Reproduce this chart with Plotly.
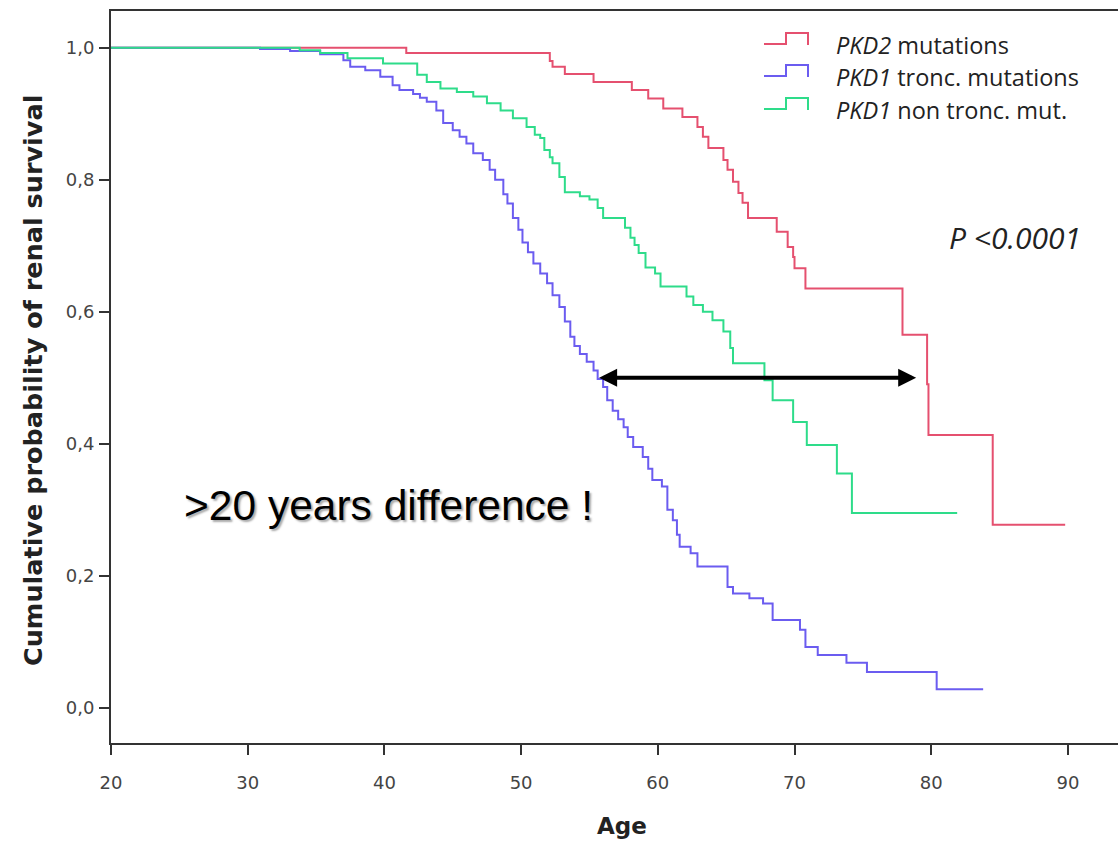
import plotly.graph_objects as go

# Kaplan-Meier renal survival by genotype (age in years, cumulative survival)
pkd2_age = [20, 41.6, 52.1, 52.3, 53.2, 55.3, 58.1, 59.3, 60.4, 61.8, 62.9, 63.3, 63.7,
            64.8, 65.1, 65.5, 65.9, 66.2, 66.6, 68.7, 69.5, 69.9, 70.0, 70.8, 77.9,
            79.7, 79.8, 84.5, 89.8]
pkd2_surv = [1.0, 0.992, 0.980, 0.971, 0.960, 0.948, 0.936, 0.923, 0.908, 0.895, 0.880,
             0.865, 0.848, 0.830, 0.815, 0.797, 0.780, 0.765, 0.742, 0.721, 0.698, 0.683,
             0.666, 0.635, 0.565, 0.490, 0.413, 0.277, 0.277]

pkd1_tr_age = [20, 30.9, 33.1, 35.3, 37.0, 37.5, 38.6, 39.7, 40.6, 41.1, 42.1, 42.6, 43.1,
               43.8, 44.3, 45.0, 45.5, 46.0, 46.5, 47.2, 47.7, 48.1, 48.7, 49.0, 49.4,
               49.8, 50.1, 50.5, 50.9, 51.4, 51.9, 52.3, 52.8, 53.2, 53.6, 53.9, 54.3,
               54.8, 55.3, 55.6, 56.0, 56.3, 56.7, 57.1, 57.5, 57.8, 58.2, 58.9, 59.3,
               59.6, 60.3, 60.7, 61.1, 61.4, 61.6, 62.4, 62.9, 65.1, 65.5, 66.7, 67.7,
               68.4, 70.4, 70.8, 71.7, 73.8, 75.3, 80.4, 83.8]
pkd1_tr_surv = [1.0, 0.998, 0.995, 0.990, 0.981, 0.971, 0.966, 0.956, 0.943, 0.936, 0.930,
                0.924, 0.918, 0.905, 0.886, 0.875, 0.865, 0.855, 0.840, 0.830, 0.815,
                0.800, 0.778, 0.764, 0.742, 0.724, 0.705, 0.690, 0.673, 0.658, 0.643,
                0.625, 0.607, 0.585, 0.562, 0.548, 0.536, 0.524, 0.511, 0.498, 0.486,
                0.466, 0.450, 0.437, 0.425, 0.410, 0.395, 0.380, 0.362, 0.345, 0.335,
                0.300, 0.284, 0.262, 0.244, 0.234, 0.214, 0.183, 0.173, 0.166, 0.158,
                0.133, 0.118, 0.092, 0.080, 0.068, 0.054, 0.028, 0.028]

pkd1_ntr_age = [20, 33.8, 35.3, 37.3, 39.9, 42.4, 43.1, 44.1, 45.3, 46.5, 47.5, 48.5, 49.4,
                50.4, 51.0, 51.4, 51.7, 52.1, 52.3, 52.8, 53.2, 54.3, 55.0, 55.6, 56.0,
                57.6, 58.0, 58.3, 58.6, 59.1, 59.8, 60.2, 62.1, 62.6, 63.3, 64.0, 64.8,
                65.3, 65.5, 67.8, 68.4, 69.9, 70.9, 73.1, 74.2, 81.9]
pkd1_ntr_surv = [1.0, 0.996, 0.992, 0.984, 0.976, 0.959, 0.948, 0.938, 0.933, 0.926, 0.916,
                 0.905, 0.893, 0.880, 0.868, 0.863, 0.845, 0.834, 0.825, 0.804, 0.781,
                 0.775, 0.770, 0.757, 0.742, 0.727, 0.712, 0.701, 0.689, 0.667, 0.658,
                 0.638, 0.623, 0.610, 0.600, 0.587, 0.570, 0.545, 0.522, 0.496, 0.466,
                 0.433, 0.398, 0.355, 0.295, 0.295]

series_names = ["<i>PKD2</i> mutations", "<i>PKD1</i> tronc. mutations",
                "<i>PKD1</i> non tronc. mut."]
series_colors = ["#e5506f", "#6b5cf0", "#2edc8a"]

x_ticks = [20, 30, 40, 50, 60, 70, 80, 90]
y_ticks = [0.0, 0.2, 0.4, 0.6, 0.8, 1.0]
y_tick_labels = ["0,0", "0,2", "0,4", "0,6", "0,8", "1,0"]

# median gap highlighted by the double arrow (ages at survival 0.5)
gap_start, gap_end, gap_level = 55.6, 78.9, 0.5

W, H = 1118, 843
ML, MR, MT, MB = 111, 0, 11, 100


def px(x):
    return (x - ML) / (W - ML - MR)


def py(y):
    return (H - MB - y) / (H - MT - MB)


fig = go.Figure()
for ages, surv, name, color in zip(
        [pkd2_age, pkd1_tr_age, pkd1_ntr_age],
        [pkd2_surv, pkd1_tr_surv, pkd1_ntr_surv],
        series_names, series_colors):
    fig.add_trace(go.Scatter(x=ages, y=surv, mode="lines", name=name,
                             line=dict(color=color, width=2, shape="hv"),
                             showlegend=False))

axis_font = dict(family="DejaVu Sans, Verdana, sans-serif", size=18, color="#444444")

fig.update_layout(
    width=W, height=H,
    margin=dict(l=ML, r=MR, t=MT, b=MB),
    paper_bgcolor="white", plot_bgcolor="white",
    xaxis=dict(range=[20, 20 + (W - ML) / 13.67], tickvals=x_ticks,
               showline=True, linecolor="#333333", linewidth=2, mirror=True,
               ticks="outside", ticklen=10, tickwidth=2, tickcolor="#333333",
               showgrid=False, zeroline=False, tickfont=axis_font,
               ticklabelstandoff=12),
    yaxis=dict(range=[-0.0535, 1.0556], tickvals=y_ticks, ticktext=y_tick_labels,
               showline=True, linecolor="#333333", linewidth=2,
               ticks="outside", ticklen=10, tickwidth=2, tickcolor="#333333",
               showgrid=False, zeroline=False, tickfont=axis_font,
               ticklabelstandoff=1),
)

annotations = []
# axis titles
annotations.append(dict(text="Age", xref="paper", yref="paper", x=px(622), y=py(826),
                        showarrow=False, xanchor="center", yanchor="middle",
                        font=dict(family="DejaVu Sans, Verdana, sans-serif", size=23,
                                  color="#222222", weight="bold")))
annotations.append(dict(text="Cumulative probability of renal survival", xref="paper",
                        yref="paper", x=px(33), y=py(381), showarrow=False,
                        textangle=-90, xanchor="center", yanchor="middle",
                        font=dict(family="DejaVu Sans, Verdana, sans-serif", size=25.5,
                                  color="#222222", weight="bold")))

# legend entries with step-shaped keys
shapes = []
legend_rows = [45, 77, 110]
for name, color, yc in zip(series_names, series_colors, legend_rows):
    x0, xm, x1 = 764, 786, 808
    path = (f"M {px(x0)},{py(yc - 1)} L {px(xm)},{py(yc - 1)} L {px(xm)},{py(yc - 12)} "
            f"L {px(x1)},{py(yc - 12)} L {px(x1)},{py(yc)}")
    shapes.append(dict(type="path", xref="paper", yref="paper", path=path,
                       line=dict(color=color, width=2)))
    annotations.append(dict(text=name, xref="paper", yref="paper", x=px(834), y=py(yc),
                            showarrow=False, xanchor="left", yanchor="middle",
                            font=dict(family="Open Sans, Lato, sans-serif", size=23.5,
                                      color="#222222")))

annotations.append(dict(text="<i>P &lt;0.0001</i>", xref="paper", yref="paper",
                        x=px(1015), y=py(237), showarrow=False, xanchor="center",
                        yanchor="middle",
                        font=dict(family="Open Sans, Lato, sans-serif", size=30,
                                  color="#222222")))

annotations.append(dict(text=">20 years difference !", xref="paper", yref="paper",
                        x=px(182), y=py(505), showarrow=False, xanchor="left",
                        yanchor="middle",
                        font=dict(family="Liberation Sans, Arial, sans-serif", size=42.5,
                                  color="black", shadow="2px 2px 2px #aaaaaa")))

# double-headed arrow across the median survival gap
annotations.append(dict(x=gap_end, y=gap_level, ax=gap_start, ay=gap_level,
                        xref="x", yref="y", axref="x", ayref="y", text="",
                        showarrow=True, arrowside="end+start", arrowhead=2,
                        startarrowhead=2, arrowsize=0.9, startarrowsize=0.9,
                        arrowwidth=4, arrowcolor="black", standoff=0, startstandoff=0))

fig.update_layout(annotations=annotations, shapes=shapes)

fig.write_html("out.html")
